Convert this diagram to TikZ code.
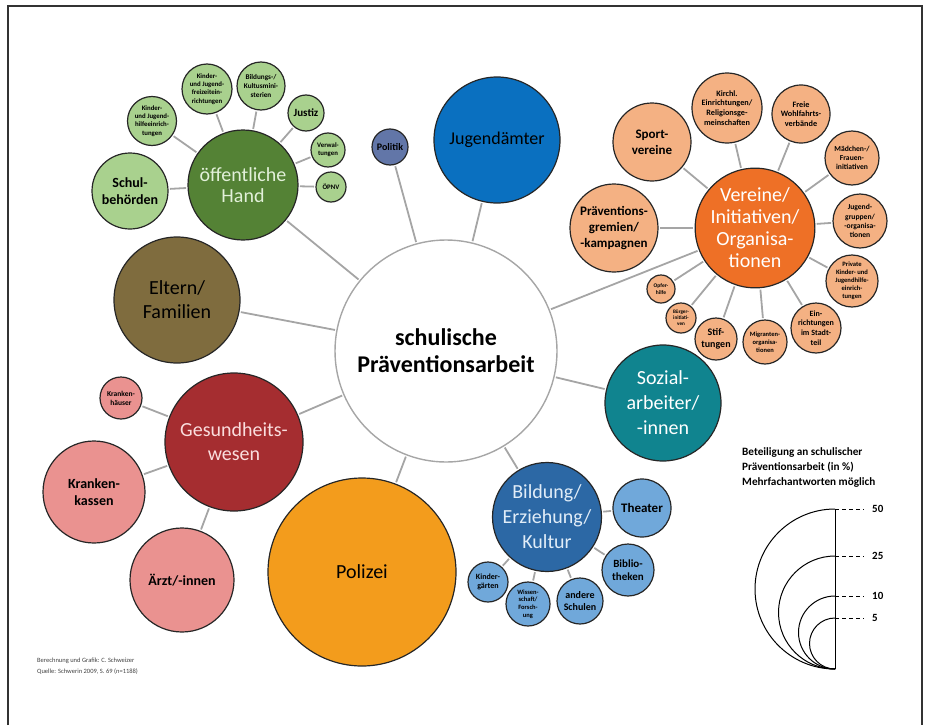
\documentclass[tikz,border=0pt]{standalone}
\usepackage{fontspec}
\setmainfont{Carlito}
\definecolor{jugblue}{RGB}{10,112,192}
\definecolor{polslate}{RGB}{98,118,168}
\definecolor{ohgreen}{RGB}{84,130,53}
\definecolor{ohlight}{RGB}{169,209,142}
\definecolor{ohtext}{RGB}{226,240,217}
\definecolor{eltbrown}{RGB}{127,108,62}
\definecolor{gesred}{RGB}{165,45,48}
\definecolor{gespink}{RGB}{234,146,144}
\definecolor{gestext}{RGB}{250,222,222}
\definecolor{polorange}{RGB}{243,156,28}
\definecolor{bilblue}{RGB}{44,104,165}
\definecolor{billight}{RGB}{112,168,218}
\definecolor{biltext}{RGB}{225,237,248}
\definecolor{sozteal}{RGB}{16,132,143}
\definecolor{verorange}{RGB}{238,112,38}
\definecolor{verlight}{RGB}{244,177,131}
\definecolor{linegray}{RGB}{165,165,165}
\newcommand\fsz[2]{\fontsize{#1}{#2}\selectfont}
\newcommand\subfont[1]{\pgfmathsetmacro\sublead{1.2*#1}\fontsize{#1}{\sublead}\selectfont}
\begin{document}
\begin{tikzpicture}[x=1pt,y=-1pt,
  bub/.style={circle, draw=black!85, line width=1.2pt, inner sep=0pt, outer sep=0pt,
              align=center, minimum size=2*#1pt},
  sub/.style={font=\bfseries\subfont{#1}},
  conn/.style={draw=linegray, line width=1.8pt, shorten <=2pt, shorten >=2pt}]
\useasboundingbox (0,0) rectangle (925,725);
% frame
\draw[black!80, line width=1.6pt] (8,725) -- (8,6) -- (922,6) -- (922,725);

% centre
\node[bub=111, draw=black!35, line width=1.4pt, fill=white, font=\bfseries\fsz{24}{27}] (ctr) at (446,351)
  {schulische\\Präventionsarbeit};

% main groups
\node[bub=63, fill=jugblue, font=\fsz{18}{21}] (jug) at (497,140) {Jugendämter};
\node[bub=18, fill=polslate, font=\bfseries\fsz{10}{12}] (pol) at (390,147) {Politik};
\node[bub=55, fill=ohgreen, text=ohtext, font=\fsz{20}{21}] (oh) at (243,185) {öffentliche\\Hand};
\node[bub=63, fill=eltbrown, font=\fsz{20}{24}] (elt) at (177,300) {Eltern/\\Familien};
\node[bub=69, fill=gesred, text=gestext, font=\fsz{20}{24}] (ges) at (234,442) {Gesundheits-\\wesen};
\node[bub=94, fill=polorange, font=\fsz{20}{24}] (poli) at (362,572) {Polizei};
\node[bub=51, fill=bilblue, text=biltext, font=\fsz{20}{25}] (bil) at (547,517) {Bildung/\\Erziehung/\\Kultur};
\node[bub=58, fill=sozteal, text=white, font=\fsz{20}{25}] (soz) at (663,403) {Sozial-\\arbeiter/\\-innen};
\node[bub=57, fill=verorange, text=white, font=\fsz{20}{22}] (ver) at (755,228) {Vereine/\\Initiativen/\\Organisa-\\tionen};

% öffentliche Hand
\node[bub=38, fill=ohlight, sub=14] (schul) at (130,191) {Schul-\\behörden};
\node[bub=24.5, fill=ohlight, sub=6.8] (kjh) at (152,121) {Kinder-\\und Jugend-\\hilfeeinrich-\\tungen};
\node[bub=25, fill=ohlight, sub=6.8] (kjf) at (207,89) {Kinder-\\und Jugend-\\freizeitein-\\richtungen};
\node[bub=24, fill=ohlight, sub=7.2] (bkm) at (261,86) {Bildungs-/\\Kultusmini-\\sterien};
\node[bub=18, fill=ohlight, sub=11] (jus) at (306,113) {Justiz};
\node[bub=17, fill=ohlight, sub=6.8] (verw) at (328,150) {Verwal-\\tungen};
\node[bub=15, fill=ohlight, sub=6.8] (opnv) at (331,187) {ÖPNV};

% Gesundheitswesen
\node[bub=21, fill=gespink, sub=7.5] (kh) at (121,398) {Kranken-\\häuser};
\node[bub=51, fill=gespink, sub=14] (kk) at (94,492) {Kranken-\\kassen};
\node[bub=52, fill=gespink, sub=14] (arzt) at (182,580) {Ärzt/-innen};

% Bildung / Erziehung / Kultur
\node[bub=29, fill=billight, sub=13] (thea) at (642,508) {Theater};
\node[bub=26, fill=billight, sub=11] (bib) at (628,570) {Biblio-\\theken};
\node[bub=23, fill=billight, sub=10] (and) at (580,601) {andere\\Schulen};
\node[bub=22, fill=billight, sub=6.5] (wiss) at (528,604) {Wissen-\\schaft/\\Forsch-\\ung};
\node[bub=20, fill=billight, sub=8] (kig) at (488,582) {Kinder-\\gärten};

% Vereine / Initiativen / Organisationen
\node[bub=39, fill=verlight, sub=13] (sport) at (652,142) {Sport-\\vereine};
\node[bub=35, fill=verlight, sub=8.2] (kirch) at (727,108) {Kirchl.\\Einrichtungen/\\Religionsge-\\meinschaften};
\node[bub=29, fill=verlight, sub=8.2] (frei) at (801,114) {Freie\\Wohlfahrts-\\verbände};
\node[bub=27, fill=verlight, sub=7.6] (maed) at (852,158) {Mädchen-/\\Frauen-\\initiativen};
\node[bub=27, fill=verlight, sub=7.6] (jugg) at (860,221) {Jugend-\\gruppen/\\-organisa-\\tionen};
\node[bub=26, fill=verlight, sub=6.6] (priv) at (852,281) {Private\\Kinder- und\\Jugendhilfe-\\einrich-\\tungen};
\node[bub=25, fill=verlight, sub=8] (einr) at (816,328) {Ein-\\richtungen\\im Stadt-\\teil};
\node[bub=22, fill=verlight, sub=6.5] (migr) at (765,342) {Migranten-\\organisa-\\tionen};
\node[bub=21, fill=verlight, sub=10] (stif) at (716,339) {Stif-\\tungen};
\node[bub=15, fill=verlight, sub=5.2] (buerg) at (681,318) {Bürger-\\initiati-\\ven};
\node[bub=14, fill=verlight, sub=5.5] (opfer) at (661,289) {Opfer-\\hilfe};
\node[bub=44, fill=verlight, sub=13] (praev) at (614,228) {Präventions-\\gremien/\\-kampagnen};

% connectors
\foreach \n in {jug,pol,oh,elt,ges,poli,bil,soz,ver}
  \draw[conn] (ctr) -- (\n);
\foreach \n in {schul,kjh,kjf,bkm,jus,verw,opnv}
  \draw[conn] (oh) -- (\n);
\foreach \n in {kh,kk,arzt}
  \draw[conn] (ges) -- (\n);
\foreach \n in {thea,bib,and,wiss,kig}
  \draw[conn] (bil) -- (\n);
\foreach \n in {sport,kirch,frei,maed,jugg,priv,einr,migr,stif,buerg,opfer,praev}
  \draw[conn] (ver) -- (\n);

% size legend
\node[anchor=north west, align=left, inner sep=0pt, font=\bfseries\fsz{11.2}{15}] (legtitle) at (742,447)
  {Beteiligung an schulischer\\Präventionsarbeit (in \%)\\Mehrfachantworten möglich};
\coordinate (legbase) at (835,669);
\coordinate (legtop) at (835,509);
\draw[black, line width=1pt] (legbase) -- (legtop);
\begin{scope}
  \clip (700,490) rectangle (835,690);
  \foreach \r in {80,56.5,36.5,25.5}
    \draw[black, line width=1pt] (835,669-\r) circle[radius=\r];
\end{scope}
\foreach \r/\v in {80/50,56.5/25,36.5/10,25.5/5} {
  \coordinate (lk\v) at (835,669-2*\r);
  \coordinate (le\v) at (864,669-2*\r);
  \draw[black, line width=1pt, dash pattern=on 4pt off 3pt] (lk\v) -- (le\v);
  \node[anchor=west, inner sep=0pt, font=\bfseries\fsz{11}{12}] (lv\v) at (872,669-2*\r) {\v};
}

% source note
\node[anchor=north west, align=left, inner sep=0pt, text=black!75, font=\fsz{6.5}{11}] (src) at (37,658)
  {Berechnung und Grafik: C. Schweizer\\Quelle: Schwerin 2009, S. 69 (n=1188)};
\end{tikzpicture}
\end{document}
